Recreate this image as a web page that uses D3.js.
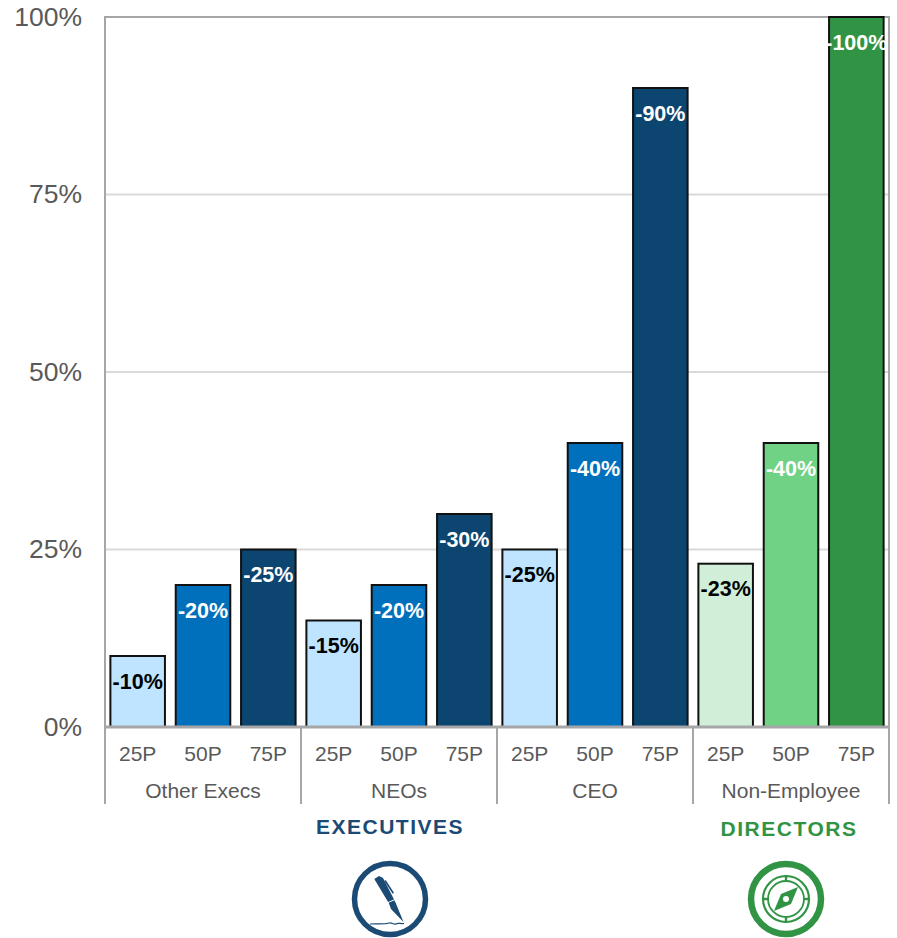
<!DOCTYPE html>
<html>
<head>
<meta charset="utf-8">
<script src="https://cdn.jsdelivr.net/npm/d3@7/dist/d3.min.js"></script>
<style>
html,body{margin:0;padding:0;background:#fff}
svg{display:block}
text{font-family:"Liberation Sans",Arial,sans-serif}
</style>
</head>
<body>
<svg id="chart" width="897" height="938"></svg>
<script>
// Pay-reduction levels by role and market percentile
const groups = ["Other Execs", "NEOs", "CEO", "Non-Employee"];
const percentiles = ["25P", "50P", "75P"];
const otherExecs = [10, 20, 25];
const neos = [15, 20, 30];
const ceo = [25, 40, 90];
const nonEmployee = [23, 40, 100];
const yTicks = [0, 25, 50, 75, 100];
const blueFills = ["#bfe4ff", "#0070bc", "#0b4570"];
const greenFills = ["#d0eed8", "#70d285", "#319445"];
const labelInks = ["#000000", "#ffffff", "#ffffff"];

const seriesByGroup = [otherExecs, neos, ceo, nonEmployee];
const rows = groups.flatMap((g, gi) => seriesByGroup[gi].map((v, pi) => ({
  group: g, gi, pi, value: v, key: g + "|" + percentiles[pi],
  fill: (gi === 3 ? greenFills : blueFills)[pi], ink: labelInks[pi]
})));

const svg = d3.select("#chart");
const plotLeft = 105, plotRight = 889, plotTop = 17, plotBottom = 727, axisBottom = 804;

const x = d3.scaleBand().domain(rows.map(d => d.key)).range([plotLeft, plotRight]).paddingInner(0.165).paddingOuter(0.0825);
const xGroup = d3.scaleBand().domain(groups).range([plotLeft, plotRight]);
const y = d3.scaleLinear().domain([0, 100]).range([plotBottom, plotTop]);

const axisGrey = "#a6a6a8", gridGrey = "#d9d9d9", textGrey = "#595959";

// Horizontal gridlines
svg.append("g").selectAll("line").data(yTicks.slice(1, 4)).join("line")
  .attr("x1", plotLeft).attr("x2", plotRight)
  .attr("y1", d => y(d)).attr("y2", d => y(d))
  .attr("stroke", gridGrey).attr("stroke-width", 2);

// Plot frame: left, top and right edges
svg.append("path")
  .attr("d", d3.line()([[plotLeft, plotBottom], [plotLeft, plotTop], [plotRight, plotTop], [plotRight, plotBottom]]))
  .attr("fill", "none").attr("stroke", axisGrey).attr("stroke-width", 2);

// Value axis labels
const yAxis = d3.axisLeft(y).tickValues(yTicks).tickFormat(d => d + "%").tickSize(0).tickPadding(23);
const yG = svg.append("g").attr("transform", `translate(${plotLeft},0)`).call(yAxis);
yG.select(".domain").remove();
yG.selectAll("text").attr("font-size", 26.5).attr("fill", textGrey)
  .attr("font-family", '"Liberation Sans",Arial,sans-serif');

// Bars
svg.append("g").selectAll("rect").data(rows).join("rect")
  .attr("x", d => x(d.key)).attr("width", x.bandwidth())
  .attr("y", d => y(d.value)).attr("height", d => plotBottom - y(d.value))
  .attr("fill", d => d.fill).attr("stroke", "#111").attr("stroke-width", 2);

// Value labels, drawn inside the top of each bar
svg.append("g").selectAll("text").data(rows).join("text")
  .attr("x", d => x(d.key) + x.bandwidth() / 2)
  .attr("y", d => y(d.value) + 32.5)
  .attr("text-anchor", "middle")
  .attr("font-size", 21.5).attr("font-weight", 700)
  .attr("fill", d => d.ink)
  .text(d => "-" + d.value + "%");

// Baseline
svg.append("line").attr("x1", plotLeft).attr("x2", plotRight).attr("y1", plotBottom).attr("y2", plotBottom)
  .attr("stroke", axisGrey).attr("stroke-width", 3);

// Two-level category axis
svg.append("g").selectAll("line").data(d3.range(groups.length + 1)).join("line")
  .attr("x1", i => plotLeft + i * xGroup.bandwidth()).attr("x2", i => plotLeft + i * xGroup.bandwidth())
  .attr("y1", plotBottom).attr("y2", axisBottom)
  .attr("stroke", axisGrey).attr("stroke-width", 2);

svg.append("g").selectAll("text").data(rows).join("text")
  .attr("x", d => x(d.key) + x.bandwidth() / 2).attr("y", 761)
  .attr("text-anchor", "middle").attr("font-size", 21).attr("fill", textGrey)
  .text(d => percentiles[d.pi]);

svg.append("g").selectAll("text").data(groups).join("text")
  .attr("x", d => xGroup(d) + xGroup.bandwidth() / 2).attr("y", 798)
  .attr("text-anchor", "middle").attr("font-size", 21).attr("fill", textGrey)
  .text(d => d);

// Section headings
const navy = "#1b4a74", green = "#319445";
svg.append("text").attr("x", 390).attr("y", 834).attr("text-anchor", "middle")
  .attr("font-size", 21).attr("font-weight", 700).attr("letter-spacing", 1.5)
  .attr("fill", navy).text("EXECUTIVES");
svg.append("text").attr("x", 789).attr("y", 836).attr("text-anchor", "middle")
  .attr("font-size", 21).attr("font-weight", 700).attr("letter-spacing", 1.5)
  .attr("fill", green).text("DIRECTORS");

// Pen badge
const pen = svg.append("g").attr("transform", "translate(390,899)");
pen.append("circle").attr("r", 35.5).attr("fill", "#fff").attr("stroke", navy).attr("stroke-width", 5.5);
pen.append("path").attr("fill", navy)
  .attr("d", "M-15.7,-20 L-11,-23 L-7,-21 L2,-3.5 L5.5,3.5 L13.5,23 L1,10 L-1,4.5 Z");
pen.append("path").attr("fill", "none").attr("stroke", "#fff").attr("stroke-width", 1)
  .attr("d", "M-2,3.5 L5,0.5");
pen.append("path").attr("fill", "none").attr("stroke", navy).attr("stroke-width", 1.6)
  .attr("d", "M-5,-18.5 L3.3,-5.7");
pen.append("path").attr("fill", "none").attr("stroke", navy).attr("stroke-width", 1.2)
  .attr("d", "M-20,25 C-12,24.5 -6,25.5 -1,24 C2,23 3,26 6,25 C8,23.5 10,25 14,24.5");

// Compass badge
const compass = svg.append("g").attr("transform", "translate(786,899)");
compass.append("circle").attr("r", 35).attr("fill", "#fff").attr("stroke", green).attr("stroke-width", 6.5);
compass.append("circle").attr("r", 23).attr("fill", "none").attr("stroke", green).attr("stroke-width", 2.2);
compass.append("circle").attr("r", 18).attr("fill", "none").attr("stroke", green).attr("stroke-width", 1.8);
compass.append("g").selectAll("rect").data([0, 90, 180, 270]).join("rect")
  .attr("x", -1.2).attr("y", -24).attr("width", 2.4).attr("height", 7)
  .attr("fill", green).attr("transform", d => `rotate(${d})`);
compass.append("path").attr("fill", green).attr("fill-rule", "evenodd")
  .attr("d", "M12,-12 L5,5 L-12,12 L-5,-5 Z M0,-3 A3,3 0 1,0 0,3 A3,3 0 1,0 0,-3 Z");
</script>
</body>
</html>
